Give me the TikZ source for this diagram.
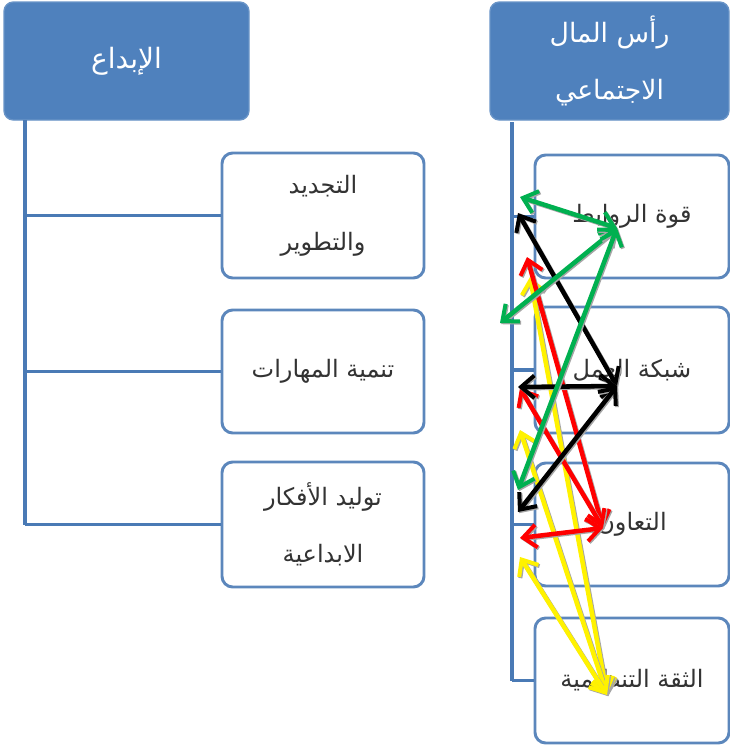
\documentclass[tikz,border=0pt]{standalone}
\usepackage{fontspec}
\usetikzlibrary{arrows.meta}
\TeXXeTstate=1
\newfontfamily\arabicfont[Script=Arabic]{DejaVu Sans}
\definecolor{hdrblue}{HTML}{4F81BD}
\definecolor{linblue}{HTML}{4A7AB5}
\definecolor{agreen}{HTML}{00B050}
\begin{document}
\begin{tikzpicture}[x=0.75pt,y=-0.75pt,
  header/.style={draw=hdrblue!85!white,line width=1pt,fill=hdrblue,rounded corners=7pt,text=white,align=center,font=\arabicfont\fontsize{20}{43}\selectfont},
  child/.style={draw=linblue!90!white,line width=2.2pt,fill=white,rounded corners=8pt,align=center,text=black!80,font=\arabicfont\fontsize{18}{43}\selectfont},
  tree/.style={draw=linblue,line width=2.6pt},
  tip/.tip={Straight Barb[length=10pt,width=17pt,line width=3pt]},
  rel/.style={line width=3.4pt,tip-tip,
     preaction={draw=black!35,line width=3.4pt,transform canvas={shift={(0.9pt,-0.9pt)}}}},
]
\useasboundingbox (0,0) rectangle (730,746);
% headers
\node[header,minimum width=183.75pt,minimum height=88.5pt] (lh) at (126.5,61) {\fontsize{21}{43}\selectfont\beginR الإبداع\endR};
\node[header,minimum width=179.25pt,minimum height=88.5pt] (rh) at (609.5,61) {\beginR رأس المال\endR\\\beginR الاجتماعي\endR};
% left children
\coordinate (ltop) at (25,120);
\coordinate (lb1) at (25,215.5);
\coordinate (lb2) at (25,371.5);
\coordinate (lb3) at (25,524.5);
\draw[tree] (ltop) -- (lb3);
\node[child,minimum width=151.5pt,minimum height=93.75pt] (l1) at (323,215.5) {\beginR التجديد\endR\\\beginR والتطوير\endR};
\node[child,minimum width=151.5pt,minimum height=92.25pt] (l2) at (323,371.5) {\beginR تنمية المهارات\endR};
\node[child,minimum width=151.5pt,minimum height=93.75pt] (l3) at (323,524.5) {\beginR توليد الأفكار\endR\\\beginR الابداعية\endR};
\draw[tree] (lb1) -- (l1.west);
\draw[tree] (lb2) -- (l2.west);
\draw[tree] (lb3) -- (l3.west);
% right children
\coordinate (rtop) at (512,122);
\coordinate (rb1) at (512,216.5);
\coordinate (rb2) at (512,370);
\coordinate (rb3) at (512,524.5);
\coordinate (rb4) at (512,680.5);
\draw[tree] (rtop) -- (rb4);
\node[child,minimum width=145.5pt,minimum height=92.25pt] (r1) at (632,216.5) {\beginR قوة الروابط\endR};
\node[child,minimum width=145.5pt,minimum height=94.5pt] (r2) at (632,370) {\beginR شبكة العمل\endR};
\node[child,minimum width=145.5pt,minimum height=92.25pt] (r3) at (632,524.5) {\beginR التعاون\endR};
\node[child,minimum width=145.5pt,minimum height=93.75pt] (r4) at (632,680.5) {\beginR الثقة التنظيمية\endR};
\draw[tree] (rb1) -- (r1.west);
\draw[tree] (rb2) -- (r2.west);
\draw[tree] (rb3) -- (r3.west);
\draw[tree] (rb4) -- (r4.west);
% arrow end points
\coordinate (gA) at (520,197);
\coordinate (gB) at (617,228);
\coordinate (gC) at (500,323);
\coordinate (gD) at (518,490);
\coordinate (kA) at (518,213);
\coordinate (kB) at (617,386);
\coordinate (kC) at (518,387);
\coordinate (kD) at (518,512);
\coordinate (rA) at (527,257);
\coordinate (rB) at (603,528);
\coordinate (rC) at (520,388);
\coordinate (rD) at (520,538);
\coordinate (yA) at (530,277);
\coordinate (yB) at (607,695);
\coordinate (yC) at (520,430);
\coordinate (yD) at (520,557);
% yellow
\draw[rel,yellow] (yA) -- (yB);
\draw[rel,yellow] (yC) -- (yB);
\draw[rel,yellow] (yD) -- (yB);
% red
\draw[rel,red] (rA) -- (rB);
\draw[rel,red] (rC) -- (rB);
\draw[rel,red] (rD) -- (rB);
% black
\draw[rel,black] (kA) -- (kB);
\draw[rel,black] (kC) -- (kB);
\draw[rel,black] (kD) -- (kB);
% green
\draw[rel,agreen] (gA) -- (gB);
\draw[rel,agreen] (gC) -- (gB);
\draw[rel,agreen] (gD) -- (gB);
\end{tikzpicture}
\end{document}
